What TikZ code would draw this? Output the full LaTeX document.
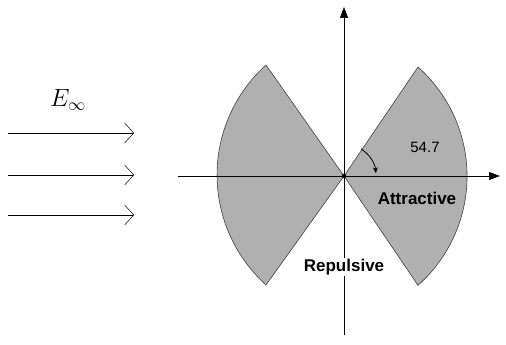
\documentclass[tikz,border=0pt]{standalone}
\usepackage{fontspec}
\setsansfont{Liberation Sans}
\usetikzlibrary{arrows.meta}
\definecolor{lobe}{HTML}{B0B0B0}
\tikzstyle{lobe} = [fill=lobe, draw=black!75, line width=0.6pt]
\tikzstyle{axis} = [line width=0.6pt, -{Triangle[length=11pt,width=8pt]}]
\tikzstyle{field} = [line width=0.5pt, -{Straight Barb[length=9pt,width=20pt]}]
\tikzstyle{tag} = [font=\sffamily\bfseries\fontsize{17}{20}\selectfont, inner sep=1pt]

\begin{document}
\begin{tikzpicture}[x=1pt,y=1pt]
	\useasboundingbox (0,0) rectangle (506,345);
	\coordinate (O) at (344,169);
	% lobes
	\draw[lobe] (O) -- (418,278) arc[start angle=48.4, end angle=-48.4, radius=146pt] -- cycle;
	\draw[lobe] (O) -- (266,280) arc[start angle=132, end angle=228, radius=148pt] -- cycle;
	% axes
	\coordinate (xL) at (178,169);
	\coordinate (xR) at (500,169);
	\coordinate (yB) at (344,10);
	\coordinate (yT) at (344,338);
	\draw[axis] (xL) -- (xR);
	\draw[axis] (yB) -- (yT);
	\fill (O) circle (2.2pt);
	% angle
	\draw[line width=0.8pt, -{Stealth[length=6pt,width=5pt]}]
		([shift={(58:32)}]O) arc[start angle=58, end angle=5, radius=32pt];
	\node[font=\sffamily\fontsize{15}{18}\selectfont] (angle) at (425,198) {54.7};
	\node[tag] (attr) at (417,147) {Attractive};
	\node[tag, fill=white] (rep) at (344,78) {Repulsive};
	% incident field
	\node[font=\fontsize{26}{30}\selectfont] (E) at (68,245) {$E_\infty$};
	\foreach \i/\y in {1/212, 2/170, 3/130} {
		\coordinate (a\i) at (8,\y);
		\coordinate (b\i) at (134,\y);
		\draw[field] (a\i) -- (b\i);
	}
\end{tikzpicture}
\end{document}
